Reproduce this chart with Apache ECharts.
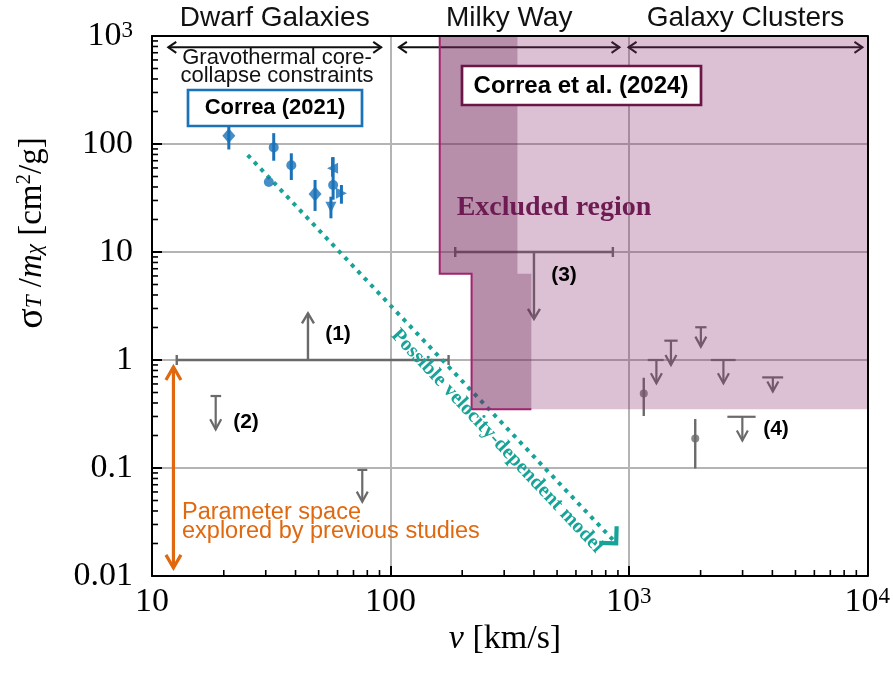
<!DOCTYPE html>
<html>
<head>
<meta charset="utf-8">
<script src="https://cdn.jsdelivr.net/npm/echarts@6/dist/echarts.min.js"></script>
<style>
  html, body { margin: 0; padding: 0; background: #ffffff; }
  #chart { width: 893px; height: 674px; }
</style>
</head>
<body>
<div id="chart"></div>
<script>
// ---------- axes ----------
const vMin = 10, vMax = 10000;          // velocity [km/s]
const sMin = 0.01, sMax = 1000;         // cross section per mass [cm^2/g]
const xTickText = ['10', '100', '10{sup|3}', '10{sup|4}'];               // exponents 1..4
const yTickText = ['0.01', '0.1', '1', '10', '100', '10{sup|3}'];        // exponents -2..3
const minorSteps = [2, 3, 4, 5, 6, 7, 8, 9];
const xDecades = [10, 100, 1000];
const yDecades = [0.01, 0.1, 1, 10, 100];

// ---------- velocity regimes ----------
const regimeNames = ['Dwarf Galaxies', 'Milky Way', 'Galaxy Clusters'];
const regimeLo = [11.7, 108.5, 997];
const regimeHi = [91.5, 914, 9550];
const regimeArrowS = [785, 785, 785];

// ---------- Correa (2021): dwarf spheroidals ----------
const dwarfV  = [21.0, 30.9, 32.4, 38.4, 48.3, 56.3, 57.5, 57.2, 62.3];
const dwarfS  = [119, 44.5, 93, 63.5, 34.4, 26.0, 41.7, 59.6, 34.9];
const dwarfLo = [89, 44.5, 70, 46.4, 24.0, 20.5, 30.5, 49.8, 28.0];
const dwarfHi = [161, 44.5, 126, 82, 46.4, 32.5, 75.5, 75.4, 41.7];
const dwarfMarker = ['diamond', 'circle', 'circle', 'circle', 'diamond',
                     'triangleDown', 'circle', 'triangleLeft', 'triangleRight'];

// ---------- cluster measurements ----------
const clusterV  = [1155, 1899];
const clusterS  = [0.49, 0.188];
const clusterLo = [0.303, 0.099];
const clusterHi = [0.685, 0.284];

// ---------- upper limits: cap at limitFrom (capLo..capHi), arrow down to limitTo ----------
const limitV     = [18.5, 76.2, 1305, 1502, 2005, 2493, 4018, 2993];
const limitFrom  = [0.464, 0.096, 1.0, 1.51, 2.01, 1.0, 0.69, 0.298];
const limitTo    = [0.228, 0.0488, 0.61, 0.90, 1.33, 0.61, 0.51, 0.18];
const limitCapLo = [17.6, 72.7, 1200, 1409, 1899, 2207, 3627, 2590];
const limitCapHi = [19.5, 80.0, 1400, 1602, 2117, 2805, 4438, 3402];

// ---------- bounds spanning a velocity range: (1) lower limit, (3) upper limit ----------
const boundV    = [45.1, 400];
const boundFrom = [1, 10];
const boundTo   = [2.7, 2.4];
const boundLo   = [12.7, 187];
const boundHi   = [175.4, 857];

// ---------- range explored by previous studies ----------
const prevV = [12.3, 12.3];
const prevS = [0.86, 0.0119];

// ---------- possible velocity-dependent model ----------
const modelV = [25.2, 885];
const modelS = [79, 0.0201];

// ---------- excluded region, Correa et al. (2024) ----------
const lightV = [161, 10000, 10000, 219, 219, 161];
const lightS = [1000, 1000, 0.35, 0.35, 6.3, 6.3];
const darkV  = [161, 341, 341, 390, 390, 219, 219, 161];
const darkS  = [1000, 1000, 6.3, 6.3, 0.35, 0.35, 6.3, 6.3];
const darkEdge = [0, 7, 6, 5, 4];   // vertices of the outlined edge

// ---------- styling ----------
const SERIF = "'Liberation Serif','Times New Roman',serif";
const SANS = "'Liberation Sans',Arial,Helvetica,sans-serif";
const GRAY = '#6a6a6a';
const BLUE = '#1a72b8';
const TEAL = '#17a398';
const ORANGE = '#e0680f';

function arrowHead(tip, from, len, half) {
  const dx = tip[0] - from[0], dy = tip[1] - from[1];
  const L = Math.hypot(dx, dy) || 1;
  const ux = dx / L, uy = dy / L;
  const bx = tip[0] - ux * len, by = tip[1] - uy * len;
  return [[bx - uy * half, by + ux * half], [tip[0], tip[1]], [bx + uy * half, by - ux * half]];
}
function seg(a, b, style) {
  return { type: 'line', shape: { x1: a[0], y1: a[1], x2: b[0], y2: b[1] }, style: style };
}
function expOf(v) { return Math.round(Math.log10(v)); }

const chart = echarts.init(document.getElementById('chart'), null, { renderer: 'canvas' });

const frameAxis = {
  axisLine: { show: true, onZero: false, lineStyle: { color: '#000', width: 2 } },
  axisTick: { show: false }, axisLabel: { show: false }, splitLine: { show: false }, z: 10
};

const option = {
  animation: false,
  backgroundColor: '#ffffff',
  grid: { left: 152, right: 22, top: 36, bottom: 98, containLabel: false },
  xAxis: [{
    type: 'log', logBase: 10, min: vMin, max: vMax, position: 'bottom',
    axisLine: { show: true, onZero: false, lineStyle: { color: '#000', width: 2 } },
    axisTick: { show: true, inside: true, length: 10, lineStyle: { color: '#000', width: 2 } },
    axisLabel: {
      margin: 9, color: '#000', fontFamily: SERIF, fontSize: 34,
      formatter: v => xTickText[expOf(v) - 1],
      rich: { sup: { fontFamily: SERIF, fontSize: 23, color: '#000', verticalAlign: 'top', padding: [0, 0, 8, 0] } }
    },
    splitLine: { show: true, lineStyle: { color: '#b4b4b4', width: 2 } }
  }, Object.assign({ type: 'log', logBase: 10, min: vMin, max: vMax, position: 'top' }, frameAxis)],
  yAxis: [{
    type: 'log', logBase: 10, min: sMin, max: sMax, position: 'left',
    axisLine: { show: true, onZero: false, lineStyle: { color: '#000', width: 2 } },
    axisTick: { show: true, inside: true, length: 10, lineStyle: { color: '#000', width: 2 } },
    axisLabel: {
      margin: 19, color: '#000', fontFamily: SERIF, fontSize: 34,
      formatter: v => yTickText[expOf(v) + 2],
      rich: { sup: { fontFamily: SERIF, fontSize: 23, color: '#000', verticalAlign: 'top', padding: [0, 0, 8, 0] } }
    },
    splitLine: { show: true, lineStyle: { color: '#b4b4b4', width: 2 } }
  }, Object.assign({ type: 'log', logBase: 10, min: sMin, max: sMax, position: 'right' }, frameAxis)],
  series: [
    // minor ticks on the bottom axis
    {
      type: 'custom', xAxisIndex: 0, yAxisIndex: 0, clip: false, z: 3, silent: true,
      data: xDecades.flatMap(d => minorSteps.map(m => [d * m, sMin])),
      renderItem(params, api) {
        const p = api.coord([api.value(0), api.value(1)]);
        return seg([p[0], p[1]], [p[0], p[1] - 6], { stroke: '#000', lineWidth: 1.6 });
      }
    },
    // minor ticks on the left axis
    {
      type: 'custom', xAxisIndex: 0, yAxisIndex: 0, clip: false, z: 3, silent: true,
      data: yDecades.flatMap(d => minorSteps.map(m => [vMin, d * m])),
      renderItem(params, api) {
        const p = api.coord([api.value(0), api.value(1)]);
        return seg([p[0], p[1]], [p[0] + 6, p[1]], { stroke: '#000', lineWidth: 1.6 });
      }
    },
    // velocity regimes with double arrows
    {
      type: 'custom', clip: false, z: 2, silent: true,
      data: regimeLo.map((lo, i) => [lo, regimeHi[i], regimeArrowS[i]]),
      encode: { x: [0, 1], y: 2 },
      renderItem(params, api) {
        const i = params.dataIndex;
        const a = api.coord([api.value(0), api.value(2)]);
        const b = api.coord([api.value(1), api.value(2)]);
        const st = { stroke: '#111', lineWidth: 2, fill: null };
        return {
          type: 'group', children: [
            seg(a, b, st),
            { type: 'polyline', shape: { points: arrowHead(a, b, 8, 5.5) }, style: st },
            { type: 'polyline', shape: { points: arrowHead(b, a, 8, 5.5) }, style: st },
            { type: 'text', x: (a[0] + b[0]) / 2, y: a[1] - 29,
              style: { text: regimeNames[i], fontFamily: SANS, fontSize: 28, fill: '#111',
                       align: 'center', verticalAlign: 'middle' } }
          ]
        };
      }
    },
    // upper limits
    {
      type: 'custom', clip: false, z: 2, silent: true,
      data: limitV.map((v, i) => [v, limitFrom[i], limitTo[i], limitCapLo[i], limitCapHi[i]]),
      renderItem(params, api) {
        const a = api.coord([api.value(0), api.value(1)]);
        const b = api.coord([api.value(0), api.value(2)]);
        const l = api.coord([api.value(3), api.value(1)]);
        const r = api.coord([api.value(4), api.value(1)]);
        const st = { stroke: GRAY, lineWidth: 2.2, fill: null };
        return {
          type: 'group', children: [
            seg(l, r, st), seg(a, b, st),
            { type: 'polyline', shape: { points: arrowHead(b, a, 10, 5.5) }, style: st }
          ]
        };
      }
    },
    // velocity-range bounds (1) and (3)
    {
      type: 'custom', clip: false, z: 2, silent: true,
      data: boundV.map((v, i) => [v, boundFrom[i], boundTo[i], boundLo[i], boundHi[i]]),
      renderItem(params, api) {
        const a = api.coord([api.value(0), api.value(1)]);
        const b = api.coord([api.value(0), api.value(2)]);
        const l = api.coord([api.value(3), api.value(1)]);
        const r = api.coord([api.value(4), api.value(1)]);
        const st = { stroke: GRAY, lineWidth: 2.4, fill: null };
        return {
          type: 'group', children: [
            seg(l, r, st), seg(a, b, st),
            seg([l[0], l[1] - 5], [l[0], l[1] + 5], st),
            seg([r[0], r[1] - 5], [r[0], r[1] + 5], st),
            { type: 'polyline', shape: { points: arrowHead(b, a, 10, 6) }, style: st }
          ]
        };
      }
    },
    // cluster error bars
    {
      type: 'custom', clip: false, z: 2, silent: true,
      data: clusterV.map((v, i) => [v, clusterS[i], clusterLo[i], clusterHi[i]]),
      renderItem(params, api) {
        const lo = api.coord([api.value(0), api.value(2)]);
        const hi = api.coord([api.value(0), api.value(3)]);
        return seg(lo, hi, { stroke: GRAY, lineWidth: 2.4 });
      }
    },
    {
      type: 'scatter', z: 2, silent: true,
      data: clusterV.map((v, i) => [v, clusterS[i]]),
      symbol: 'circle', symbolSize: 8,
      itemStyle: { color: GRAY }
    },
    // Correa (2021) error bars and markers
    {
      type: 'custom', clip: false, z: 3, silent: true,
      data: dwarfV.map((v, i) => [v, dwarfS[i], dwarfLo[i], dwarfHi[i]]),
      renderItem(params, api) {
        const lo = api.coord([api.value(0), api.value(2)]);
        const hi = api.coord([api.value(0), api.value(3)]);
        return seg(lo, hi, { stroke: BLUE, lineWidth: 3 });
      }
    },
    {
      type: 'scatter', z: 4, silent: true,
      data: dwarfV.map((v, i) => {
        const m = dwarfMarker[i];
        const item = { value: [v, dwarfS[i]], symbol: 'circle', symbolSize: 10, symbolRotate: 0 };
        if (m === 'diamond') { item.symbol = 'diamond'; item.symbolSize = [13, 15]; }
        if (m === 'triangleDown') { item.symbol = 'triangle'; item.symbolSize = 11; item.symbolRotate = 180; }
        if (m === 'triangleLeft') { item.symbol = 'triangle'; item.symbolSize = 11; item.symbolRotate = 90; }
        if (m === 'triangleRight') { item.symbol = 'triangle'; item.symbolSize = 11; item.symbolRotate = -90; }
        return item;
      }),
      itemStyle: { color: BLUE }
    },
    // previous studies double arrow
    {
      type: 'custom', clip: false, z: 3, silent: true,
      data: [[prevV[0], prevS[0], prevV[1], prevS[1]]],
      renderItem(params, api) {
        const a = api.coord([api.value(0), api.value(1)]);
        const b = api.coord([api.value(2), api.value(3)]);
        const st = { stroke: ORANGE, lineWidth: 3.2, fill: null };
        return {
          type: 'group', children: [
            seg(a, b, st),
            { type: 'polyline', shape: { points: arrowHead(a, b, 13, 7.5) }, style: st },
            { type: 'polyline', shape: { points: arrowHead(b, a, 13, 7.5) }, style: st }
          ]
        };
      }
    },
    // velocity-dependent model
    {
      type: 'custom', clip: false, z: 3, silent: true,
      data: [[modelV[0], modelS[0], modelV[1], modelS[1]]],
      renderItem(params, api) {
        const a = api.coord([api.value(0), api.value(1)]);
        const b = api.coord([api.value(2), api.value(3)]);
        const L = Math.hypot(b[0] - a[0], b[1] - a[1]);
        const e = [b[0] - (b[0] - a[0]) * 4 / L, b[1] - (b[1] - a[1]) * 4 / L];
        return {
          type: 'group', children: [
            seg(a, e, { stroke: TEAL, lineWidth: 4, lineDash: [4, 5.4], lineCap: 'butt' }),
            { type: 'polyline', shape: { points: arrowHead(b, a, 12, 12) },
              style: { stroke: TEAL, lineWidth: 4.2, fill: null, lineJoin: 'miter' } }
          ]
        };
      }
    },
    // excluded region: light part
    {
      type: 'custom', clip: true, z: 5, silent: true,
      data: [[lightV[0], lightS[0]]],
      renderItem(params, api) {
        const pts = lightV.map((v, i) => api.coord([v, lightS[i]]));
        return { type: 'polygon', shape: { points: pts }, style: { fill: 'rgba(138,45,108,0.30)', stroke: null } };
      }
    },
    // excluded region: dark part with outline
    {
      type: 'custom', clip: true, z: 6, silent: true,
      data: [[darkV[0], darkS[0]]],
      renderItem(params, api) {
        const pts = darkV.map((v, i) => api.coord([v, darkS[i]]));
        const edge = darkEdge.map(k => pts[k]);
        return {
          type: 'group', children: [
            { type: 'polygon', shape: { points: pts }, style: { fill: 'rgba(100,30,75,0.30)', stroke: null } },
            { type: 'polyline', shape: { points: edge }, style: { stroke: '#a3226e', lineWidth: 2, fill: null } }
          ]
        };
      }
    }
  ],
  graphic: [
    // y-axis title
    {
      type: 'text', x: 35, y: 233, rotation: Math.PI / 2, z: 100,
      style: {
        text: '{s|σ}{sub|T}{n| /}{i|m}{sub|χ}{n| [cm}{sup|2}{n|/g]}',
        align: 'center', verticalAlign: 'middle',
        rich: {
          s: { fontFamily: SERIF, fontSize: 38, fill: '#000', padding: [0, 0, 6, 0] },
          n: { fontFamily: SERIF, fontSize: 33, fill: '#000', padding: [0, 0, 6, 0] },
          i: { fontFamily: SERIF, fontSize: 33, fontStyle: 'italic', fill: '#000', padding: [0, 0, 6, 0] },
          sub: { fontFamily: SERIF, fontSize: 23, fontStyle: 'italic', fill: '#000' },
          sup: { fontFamily: SERIF, fontSize: 21, fill: '#000', padding: [0, 0, 22, 0] }
        }
      }
    },
    // x-axis title
    {
      type: 'text', x: 505, y: 639, z: 100,
      style: {
        text: '{i|v} [km/s]', fontFamily: SERIF, fontSize: 34, fill: '#000',
        align: 'center', verticalAlign: 'middle',
        rich: { i: { fontFamily: SERIF, fontSize: 34, fontStyle: 'italic', fill: '#000' } }
      }
    },
    {
      type: 'text', x: 277, y: 67, z: 100,
      style: { text: 'Gravothermal core-\ncollapse constraints', fontFamily: SANS, fontSize: 22,
               lineHeight: 18, fill: '#111', align: 'center', verticalAlign: 'middle' }
    },
    { type: 'rect', shape: { x: 188, y: 90, width: 174, height: 36 }, z: 100,
      style: { fill: '#fff', stroke: BLUE, lineWidth: 2.7 } },
    { type: 'text', x: 275, y: 108, z: 101,
      style: { text: 'Correa (2021)', fontFamily: SANS, fontSize: 22, fontWeight: 'bold', fill: '#000',
               align: 'center', verticalAlign: 'middle' } },
    { type: 'rect', shape: { x: 462, y: 66, width: 239, height: 39 }, z: 100,
      style: { fill: '#fff', stroke: '#6a1748', lineWidth: 2.7 } },
    { type: 'text', x: 581, y: 86, z: 101,
      style: { text: 'Correa et al. (2024)', fontFamily: SANS, fontSize: 24, fontWeight: 'bold', fill: '#000',
               align: 'center', verticalAlign: 'middle' } },
    { type: 'text', x: 554, y: 208, z: 100,
      style: { text: 'Excluded region', fontFamily: SERIF, fontSize: 28, fontWeight: 'bold', fill: '#6d1b52',
               align: 'center', verticalAlign: 'middle' } },
    { type: 'text', x: 338, y: 334, z: 100,
      style: { text: '(1)', fontFamily: SANS, fontSize: 21, fontWeight: 'bold', fill: '#000', align: 'center', verticalAlign: 'middle' } },
    { type: 'text', x: 246, y: 422, z: 100,
      style: { text: '(2)', fontFamily: SANS, fontSize: 21, fontWeight: 'bold', fill: '#000', align: 'center', verticalAlign: 'middle' } },
    { type: 'text', x: 564, y: 275, z: 100,
      style: { text: '(3)', fontFamily: SANS, fontSize: 21, fontWeight: 'bold', fill: '#000', align: 'center', verticalAlign: 'middle' } },
    { type: 'text', x: 776, y: 429, z: 100,
      style: { text: '(4)', fontFamily: SANS, fontSize: 21, fontWeight: 'bold', fill: '#000', align: 'center', verticalAlign: 'middle' } },
    { type: 'text', x: 182, y: 522, z: 100,
      style: { text: 'Parameter space\nexplored by previous studies', fontFamily: SANS, fontSize: 23.5,
               lineHeight: 19.5, fill: ORANGE, align: 'left', verticalAlign: 'middle' } },
    { type: 'text', x: 497, y: 441, rotation: -0.815, z: 100,
      style: { text: 'Possible velocity-dependent model', fontFamily: SERIF, fontSize: 20.5, fontWeight: 'bold',
               fill: TEAL, align: 'center', verticalAlign: 'middle' } }
  ]
};

chart.setOption(option);
</script>
</body>
</html>
